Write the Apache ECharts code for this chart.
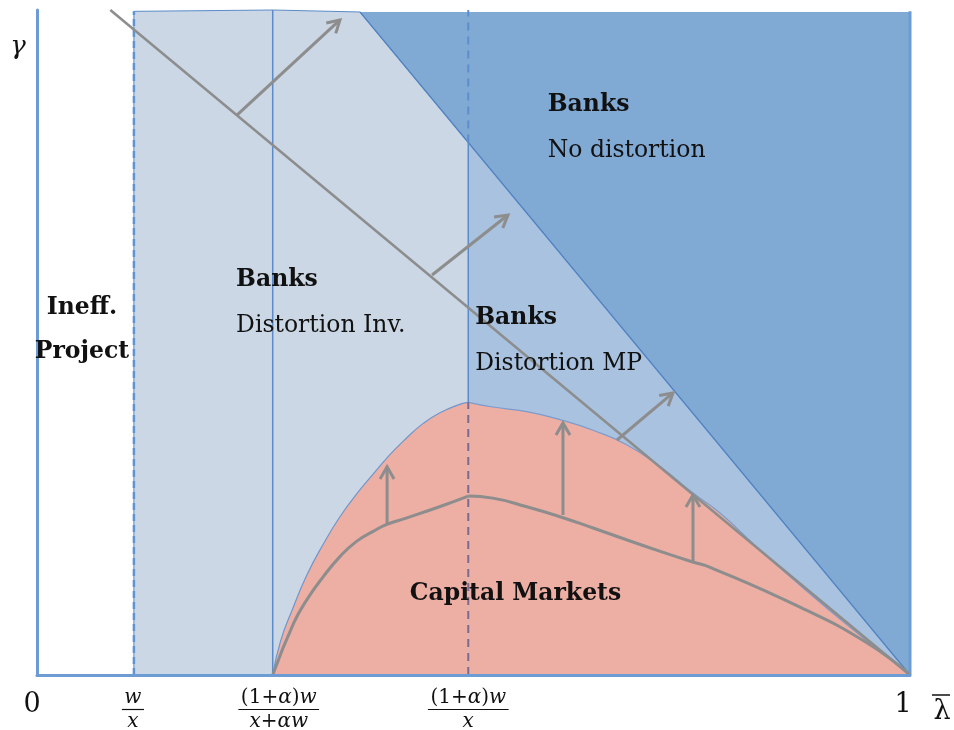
<!DOCTYPE html>
<html><head><meta charset="utf-8">
<script src="https://cdn.jsdelivr.net/npm/echarts@6/dist/echarts.min.js"></script>
<style>html,body{margin:0;padding:0;background:#fff}#c{width:954px;height:730px}</style>
</head><body><div id="c"></div>
<script>
// ---------------- data (x = λ̄ in [0,1], y = γ in [0,1]) ----------------
const xTickValues = [0, 0.111, 0.270, 0.494, 1];
const xTickNumerators = ['0', 'w', '(1+α)w', '(1+α)w', '1'];
const xTickDenominators = ['', 'x', 'x+αw', 'x', ''];
const xAxisName = 'λ';
const yAxisName = 'γ';

// upper boundary of the capital-markets region
const redUpperX = [0.270, 0.279, 0.293, 0.309, 0.328, 0.347, 0.366, 0.385, 0.404, 0.423, 0.442, 0.461, 0.484, 0.494, 0.522, 0.561, 0.599, 0.637, 0.676, 0.714, 0.751, 0.782, 0.828, 0.874, 0.931, 1.000];
const redUpperY = [0.000, 0.051, 0.100, 0.150, 0.197, 0.238, 0.272, 0.302, 0.331, 0.356, 0.378, 0.394, 0.407, 0.410, 0.403, 0.396, 0.384, 0.368, 0.346, 0.313, 0.274, 0.244, 0.188, 0.135, 0.072, 0.000];

// previous (lower) boundary, grey curve
const grayLowerX = [0.270, 0.294, 0.309, 0.328, 0.347, 0.366, 0.385, 0.400, 0.423, 0.461, 0.494, 0.522, 0.561, 0.599, 0.637, 0.676, 0.714, 0.751, 0.771, 0.874, 0.951, 1.000];
const grayLowerY = [0.000, 0.078, 0.113, 0.148, 0.178, 0.201, 0.216, 0.226, 0.236, 0.253, 0.269, 0.266, 0.253, 0.238, 0.221, 0.203, 0.186, 0.170, 0.162, 0.102, 0.048, 0.000];

// light region top edge
const lightTopX = [0.111, 0.270, 0.370];
const lightTopY = [0.998, 1.000, 0.997];
// "no distortion" boundary
const darkBoundaryX = [0.370, 1.000];
const darkBoundaryY = [0.997, 0.000];
// grey diagonal (shifting line)
const diagonalX = [0.084, 1.000];
const diagonalY = [1.000, 0.000];

// shift arrows (diagonal) : from -> to
const shiftFrom = [[0.229, 0.842], [0.4525, 0.6015], [0.6644, 0.3534]];
const shiftTo   = [[0.347, 0.985], [0.5395, 0.6917], [0.7285, 0.4241]];
// lift arrows (vertical)
const liftX     = [0.401, 0.6025, 0.7514];
const liftFromY = [0.226, 0.2406, 0.170];
const liftToY   = [0.313, 0.379, 0.2707];

// region labels
const regionTitles    = ['Ineff.', 'Banks', 'Banks', 'Banks', 'Capital Markets'];
const regionSubtitles = ['Project', 'Distortion Inv.', 'Distortion MP', 'No distortion', ''];
const regionAnchors   = [[0.0515, 0.552], [0.228, 0.594], [0.502, 0.537], [0.585, 0.857], [0.427, 0.122]];

// ---------------- drawing ----------------
const SERIF = "'DejaVu Serif', 'Liberation Serif', serif";
const C = {
  light: '#cbd7e5', medium: '#a9c2df', dark: '#80a9d4', red: '#edaea4',
  blueLine: '#5b8bc8', axis: '#6c9cd3', gray: '#8d8d8d', text: '#111111', dashRed: '#7c6b8e'
};
const zip = (xs, ys) => xs.map((x, i) => [x, ys[i]]);
const darkAt = (x) => darkBoundaryY[0] + (darkBoundaryY[1] - darkBoundaryY[0]) * (x - darkBoundaryX[0]) / (darkBoundaryX[1] - darkBoundaryX[0]);
const mpX = xTickValues[3];
const mpKinkY = darkAt(mpX);
const redPeakIdx = redUpperX.indexOf(mpX);
const grayPeakIdx = grayLowerX.indexOf(mpX);
const mpPeakY = redUpperY[redPeakIdx];
const redPts = zip(redUpperX, redUpperY);
const grayPts = zip(grayLowerX, grayLowerY);

const FRAC_SIZE = 20;
const isLetter = (ch) => /[a-zA-Zα-ω]/.test(ch);
function mathRich(str) {
  let out = '';
  for (const ch of str) out += (isLetter(ch) ? '{i|' : '{u|') + ch + '}';
  return out;
}
const mathStyles = (size) => ({
  i: { fontFamily: SERIF, fontStyle: 'italic', fontSize: size, fill: C.text },
  u: { fontFamily: SERIF, fontSize: size, fill: C.text }
});
const mctx = document.createElement('canvas').getContext('2d');
function mathWidth(str, size) {
  let w = 0;
  for (const ch of str) {
    mctx.font = (isLetter(ch) ? 'italic ' : '') + size + 'px ' + SERIF;
    w += mctx.measureText(ch).width;
  }
  return w;
}

function layer(name, z, build) {
  return {
    type: 'custom', name, coordinateSystem: 'cartesian2d', data: [[0, 0]], silent: true, z,
    clip: false, animation: false,
    renderItem: (params, api) => ({ type: 'group', children: build(api) })
  };
}
const pts = (api, arr) => arr.map(p => api.coord(p));
function seg(api, p1, p2, style) {
  const a = api.coord(p1), b = api.coord(p2);
  return { type: 'line', shape: { x1: a[0], y1: a[1], x2: b[0], y2: b[1] }, style };
}
function arrow(api, from, to) {
  const a = api.coord(from), b = api.coord(to);
  const ang = Math.atan2(b[1] - a[1], b[0] - a[0]);
  const L = 14, spr = Math.PI / 6;
  const h1 = [b[0] - L * Math.cos(ang - spr), b[1] - L * Math.sin(ang - spr)];
  const h2 = [b[0] - L * Math.cos(ang + spr), b[1] - L * Math.sin(ang + spr)];
  const st = { stroke: C.gray, lineWidth: 3, fill: null, lineCap: 'butt', lineJoin: 'miter' };
  return [
    { type: 'line', shape: { x1: a[0], y1: a[1], x2: b[0], y2: b[1] }, style: st },
    { type: 'polyline', shape: { points: [h1, b, h2] }, style: st }
  ];
}
function curve(name, data, z, lineColor, lineWidth, fill) {
  const s = {
    type: 'line', name, data, smooth: 0.5, symbol: 'none', silent: true, z, animation: false,
    lineStyle: { color: lineColor, width: lineWidth }
  };
  if (fill) s.areaStyle = { color: fill, opacity: 1, origin: 'start' };
  return s;
}

const series = [
  // light region (banks, distortion inv.)
  layer('light', 1, api => [{
    type: 'polygon',
    shape: { points: pts(api, [[xTickValues[1], 0], ...zip(lightTopX, lightTopY), [darkBoundaryX[1], darkBoundaryY[1]]]) },
    style: { fill: C.light, stroke: C.blueLine, lineWidth: 1 }
  }]),
  // medium region (banks, distortion MP)
  layer('medium', 2, api => [{
    type: 'polygon',
    shape: { points: pts(api, [[mpX, mpKinkY], [darkBoundaryX[1], darkBoundaryY[1]], [mpX, 0]]) },
    style: { fill: C.medium }
  }]),
  // dark region (no distortion)
  layer('dark', 3, api => [{
    type: 'polygon',
    shape: { points: pts(api, [[darkBoundaryX[0], darkBoundaryY[0]], [1, darkBoundaryY[0]], [darkBoundaryX[1], darkBoundaryY[1]]]) },
    style: { fill: C.dark }
  }, seg(api, [darkBoundaryX[0], darkBoundaryY[0]], [darkBoundaryX[1], darkBoundaryY[1]], { stroke: '#4f82c2', lineWidth: 1.2 })]),
  // red region (capital markets), split at the kink
  curve('Capital markets', redPts.slice(0, redPeakIdx + 1), 4, '#6f97cb', 1.2, C.red),
  curve('Capital markets ', redPts.slice(redPeakIdx), 4, '#7c9ccb', 1.2, C.red),
  // vertical boundaries
  layer('verticals', 5, api => [
    seg(api, [xTickValues[1], 0], [xTickValues[1], 0.998], { stroke: '#5f93d2', lineWidth: 2.5, lineDash: [7, 4] }),
    seg(api, [xTickValues[2], 0], [xTickValues[2], 1.0], { stroke: C.blueLine, lineWidth: 1.5 }),
    seg(api, [mpX, mpKinkY], [mpX, 1.0], { stroke: '#5c8dcc', lineWidth: 2, lineDash: [8, 6] }),
    seg(api, [mpX, mpPeakY], [mpX, mpKinkY], { stroke: C.blueLine, lineWidth: 1.5 }),
    seg(api, [mpX, 0], [mpX, mpPeakY], { stroke: C.dashRed, lineWidth: 2, lineDash: [8, 6] }),
    seg(api, [1, 0], [1, 0.998], { stroke: C.axis, lineWidth: 3 })
  ]),
  // grey previous boundary
  curve('Previous boundary', grayPts.slice(0, grayPeakIdx + 1), 6, C.gray, 3, null),
  curve('Previous boundary ', grayPts.slice(grayPeakIdx), 6, C.gray, 3, null),
  // diagonal and arrows
  layer('shifts', 6, api => {
    const ch = [seg(api, [diagonalX[0], diagonalY[0]], [diagonalX[1], diagonalY[1]], { stroke: C.gray, lineWidth: 2.5 })];
    shiftFrom.forEach((f, i) => ch.push(...arrow(api, f, shiftTo[i])));
    liftX.forEach((x, i) => ch.push(...arrow(api, [x, liftFromY[i]], [x, liftToY[i]])));
    return ch;
  }),
  // region labels
  layer('labels', 8, api => {
    const ch = [];
    regionTitles.forEach((t, i) => {
      const p = api.coord(regionAnchors[i]);
      const centered = i === 0;
      ch.push({ type: 'text', x: p[0], y: p[1], style: {
        text: t, fontFamily: SERIF, fontWeight: 'bold', fontSize: 23.5, fill: C.text,
        align: centered ? 'center' : 'left', verticalAlign: 'middle' } });
      if (regionSubtitles[i]) {
        ch.push({ type: 'text', x: p[0], y: p[1] + (centered ? 44 : 46), style: {
          text: regionSubtitles[i], fontFamily: SERIF, fontWeight: centered ? 'bold' : 'normal', fontSize: 23.5, fill: C.text,
          align: centered ? 'center' : 'left', verticalAlign: 'middle' } });
      }
    });
    return ch;
  }),
  // axis tick labels (fractions) and axis names
  layer('ticks', 9, api => {
    const ch = [];
    const dx = [-5, -1, 6, 0, -7];
    xTickValues.forEach((v, i) => {
      const p = api.coord([v, 0]);
      const cx = p[0] + dx[i];
      if (!xTickDenominators[i]) {
        ch.push({ type: 'text', x: cx, y: p[1] + 30, style: { text: xTickNumerators[i], fontFamily: SERIF, fontSize: 27, fill: C.text, align: 'center', verticalAlign: 'middle' } });
        return;
      }
      const barW = Math.max(mathWidth(xTickNumerators[i], FRAC_SIZE), mathWidth(xTickDenominators[i], FRAC_SIZE)) + 5;
      ch.push(
        { type: 'text', x: cx, y: p[1] + 23, style: { text: mathRich(xTickNumerators[i]), rich: mathStyles(FRAC_SIZE), align: 'center', verticalAlign: 'middle' } },
        { type: 'line', shape: { x1: cx - barW / 2, y1: p[1] + 34.5, x2: cx + barW / 2, y2: p[1] + 34.5 }, style: { stroke: C.text, lineWidth: 1.2 } },
        { type: 'text', x: cx, y: p[1] + 47, style: { text: mathRich(xTickDenominators[i]), rich: mathStyles(FRAC_SIZE), align: 'center', verticalAlign: 'middle' } }
      );
    });
    const end = api.coord([1, 0]);
    ch.push({ type: 'text', x: end[0] + 32, y: end[1] + 37, style: { text: xAxisName, fontFamily: SERIF, fontSize: 27, fill: C.text, align: 'center', verticalAlign: 'middle' } });
    ch.push({ type: 'line', shape: { x1: end[0] + 22, y1: end[1] + 20, x2: end[0] + 40, y2: end[1] + 20 }, style: { stroke: C.text, lineWidth: 1.5 } });
    const top = api.coord([0, 1]);
    ch.push({ type: 'text', x: top[0] - 19, y: top[1] + 37, style: { text: yAxisName, fontFamily: SERIF, fontStyle: 'italic', fontSize: 26, fill: C.text, align: 'center', verticalAlign: 'middle' } });
    return ch;
  })
];

const chart = echarts.init(document.getElementById('c'), null, { renderer: 'canvas' });
chart.setOption({
  animation: false,
  backgroundColor: '#ffffff',
  grid: { left: 37, right: 44, top: 10, bottom: 55, containLabel: false },
  xAxis: { type: 'value', min: 0, max: 1, axisLine: { show: true, onZero: false, lineStyle: { color: C.axis, width: 3 } },
    axisTick: { show: false }, axisLabel: { show: false }, splitLine: { show: false }, z: 7 },
  yAxis: { type: 'value', min: 0, max: 1, axisLine: { show: true, onZero: false, lineStyle: { color: C.axis, width: 3 } },
    axisTick: { show: false }, axisLabel: { show: false }, splitLine: { show: false }, z: 7 },
  series
});
</script>
</body></html>
